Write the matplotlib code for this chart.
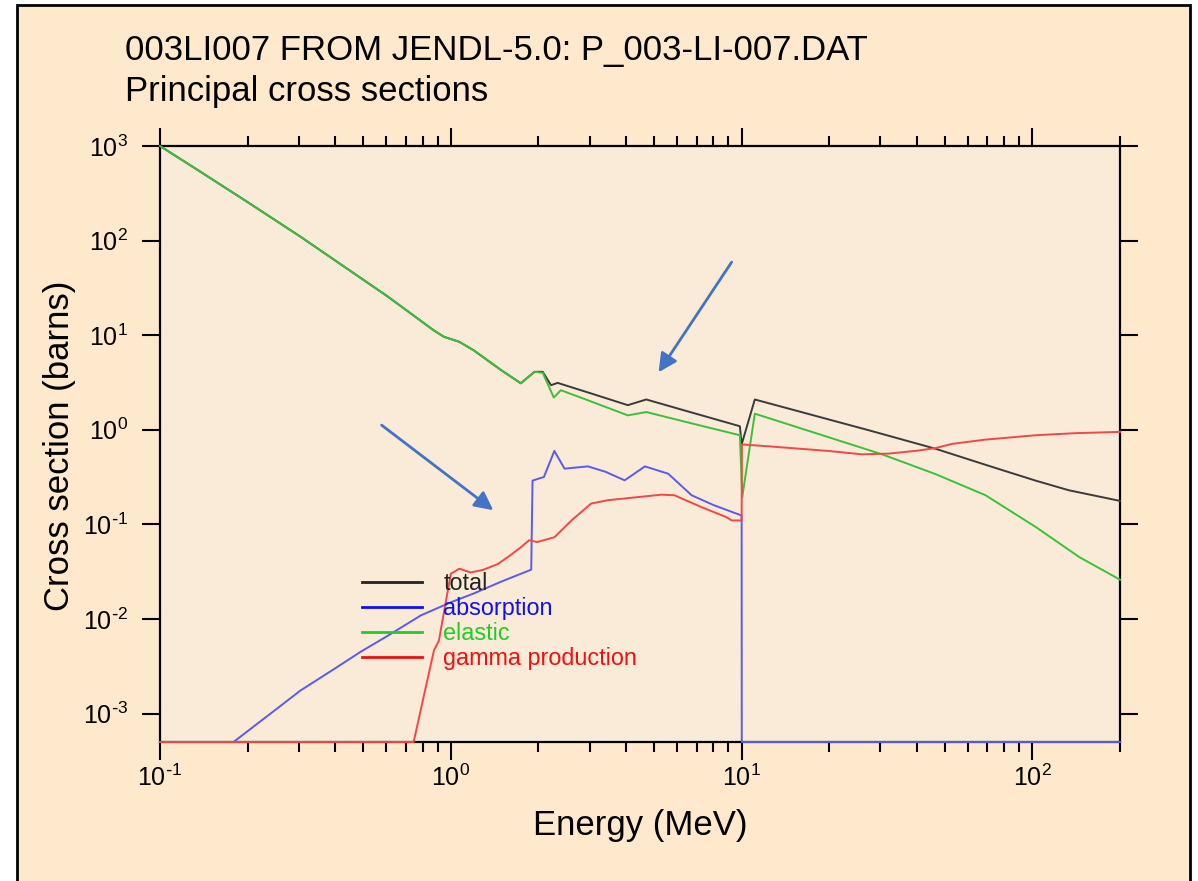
import matplotlib
matplotlib.use("Agg")
import matplotlib.pyplot as plt
import numpy as np
from matplotlib.patches import Rectangle
from matplotlib.lines import Line2D
from matplotlib.ticker import LogLocator, FixedLocator, NullLocator, NullFormatter, FuncFormatter

plt.rcParams['font.family'] = ['Liberation Sans', 'DejaVu Sans']
plt.rcParams['mathtext.default'] = 'regular'
plt.rcParams['axes.unicode_minus'] = False

# Li-7 principal cross sections (MeV, barns); 0 means below the plot floor
e_total = [0.1, 0.137, 0.199, 0.304, 0.396, 0.605, 0.875, 0.948, 1.07, 1.2, 1.49, 1.74,
           1.94, 2.07, 2.21, 2.33, 3.0, 4.06, 4.70, 6.5, 9.86, 10.0, 11.1, 27.3, 46.4,
           70.0, 102.5, 133.6, 200.0]
s_total = [1000, 540, 258, 110, 63, 25.8, 11.2, 9.6, 8.5, 6.9, 4.27, 3.1,
           4.1, 4.1, 2.96, 3.13, 2.45, 1.82, 2.09, 1.57, 1.09, 0.70, 2.09, 0.99, 0.63,
           0.42, 0.29, 0.229, 0.177]

e_elastic = [0.1, 0.137, 0.199, 0.304, 0.396, 0.605, 0.875, 0.948, 1.07, 1.2, 1.49, 1.74,
             1.94, 2.07, 2.26, 2.39, 3.0, 4.06, 4.70, 6.5, 9.86, 10.05, 11.1, 20.0, 30.4,
             46.4, 69.0, 102.5, 145.0, 200.0]
s_elastic = [1000, 540, 258, 110, 63, 25.8, 11.2, 9.6, 8.5, 6.9, 4.27, 3.1,
             4.1, 4.0, 2.19, 2.62, 2.02, 1.42, 1.54, 1.2, 0.875, 0.195, 1.48, 0.83, 0.55,
             0.34, 0.203, 0.094, 0.045, 0.026]

e_absorption = [0.1, 0.179, 0.2, 0.25, 0.304, 0.4, 0.49, 0.6, 0.789, 1.0, 1.2, 1.5, 1.89,
                1.91, 2.09, 2.27, 2.46, 2.96, 3.4, 3.96, 4.65, 5.59, 6.73, 8.0, 10.0, 10.01,
                200.0]
s_absorption = [0, 0, 0.00065, 0.0011, 0.00175, 0.0030, 0.0045, 0.0065, 0.0109, 0.015, 0.0186,
                0.025, 0.0332, 0.29, 0.317, 0.597, 0.388, 0.41, 0.36, 0.292, 0.41, 0.343, 0.203,
                0.16, 0.124, 0, 0]

e_gamma = [0.1, 0.745, 0.875, 0.91, 1.0, 1.07, 1.17, 1.29, 1.45, 1.6, 1.75, 1.86, 1.98, 2.27,
           2.6, 3.04, 3.47, 5.30, 5.87, 7.28, 8.87, 9.24, 10.0, 10.02, 12.4, 19.9, 25.9, 32.1,
           40.0, 46.4, 53.0, 69.0, 102.5, 140.0, 200.0]
s_gamma = [0, 0, 0.00465, 0.0059, 0.030, 0.034, 0.031, 0.033, 0.038, 0.047, 0.058, 0.068, 0.065,
           0.073, 0.11, 0.166, 0.18, 0.206, 0.203, 0.152, 0.119, 0.11, 0.11, 0.70, 0.668, 0.597,
           0.55, 0.56, 0.60, 0.64, 0.71, 0.787, 0.875, 0.92, 0.95]

labels = ['total', 'absorption', 'elastic', 'gamma production']
curve_colors = ['#3a3a3a', '#5a5af0', '#3cc03c', '#f04848']
key_colors = ['#222222', '#1010ee', '#22cc22', '#ee1111']

YMIN, YMAX = 5e-4, 1e3
XMIN, XMAX = 0.1, 200


def decade_label(v, pos):
    exp = int(round(np.log10(v)))
    if exp < 0:
        return r'$10^{\text{-}%d}$' % -exp
    return r'$10^{%d}$' % exp


fig = plt.figure(figsize=(11.98, 8.81), dpi=100)
fig.patch.set_facecolor('white')
fig.add_artist(Rectangle((17 / 1198, -0.05), (1190 - 17) / 1198, 1.05 - 5 / 881,
                         transform=fig.transFigure, facecolor='#fee9cc',
                         edgecolor='black', lw=2, zorder=0))

ax = fig.add_axes([160 / 1198, 139 / 881, 960 / 1198, 596 / 881])
ax.set_facecolor('#f9ebd7')

series = [(e_total, s_total), (e_absorption, s_absorption),
          (e_elastic, s_elastic), (e_gamma, s_gamma)]
for (e, s), c in zip(series, curve_colors):
    s = np.asarray(s, dtype=float)
    # zero values sit on the bottom axis line
    ax.plot(e, np.where(s > 0, s, YMIN), color=c, lw=1.4, zorder=3, clip_on=False)

ax.set_xscale('log')
ax.set_yscale('log')
ax.set_xlim(XMIN, XMAX)
ax.set_ylim(YMIN, YMAX)

ax.xaxis.set_major_locator(FixedLocator([0.1, 1, 10, 100]))
ax.xaxis.set_minor_locator(LogLocator(base=10, subs=np.arange(2, 10)))
ax.xaxis.set_minor_formatter(NullFormatter())
ax.xaxis.set_major_formatter(FuncFormatter(decade_label))
ax.yaxis.set_major_locator(FixedLocator([1e-3, 1e-2, 1e-1, 1, 10, 100, 1000]))
ax.yaxis.set_minor_locator(NullLocator())
ax.yaxis.set_major_formatter(FuncFormatter(decade_label))

for sp in ax.spines.values():
    sp.set_linewidth(1.6)
ax.tick_params(which='both', direction='out', top=True, right=True, width=1.5,
               labelsize=18, colors='black')
ax.tick_params(which='major', length=13)
ax.tick_params(which='minor', length=7)
ax.tick_params(axis='x', pad=3)
ax.tick_params(axis='y', pad=10)

fig.text(125 / 1198, 1 - 60 / 881, '003LI007 FROM JENDL-5.0: P_003-LI-007.DAT',
         fontsize=25, va='baseline', ha='left')
fig.text(125 / 1198, 1 - 101 / 881, 'Principal cross sections',
         fontsize=25, va='baseline', ha='left')
fig.text(640 / 1198, 1 - 826 / 881, 'Energy (MeV)', fontsize=25, ha='center', va='center')
fig.text(60 / 1198, 1 - 446 / 881, 'Cross section (barns)', fontsize=25,
         ha='center', va='center', rotation=90)

handles = [Line2D([], [], color=c, lw=2) for c in key_colors]
leg = ax.legend(handles, labels, loc='upper left', bbox_to_anchor=(0.21, 0.285),
                frameon=False, fontsize=16.8, handlelength=2.6, handletextpad=0.9,
                labelspacing=0.08, borderpad=0, borderaxespad=0)
for txt, c in zip(leg.get_texts(), key_colors):
    txt.set_color(c)

# pointer arrows
arrow = dict(arrowstyle='-|>', color='#4472c4', lw=2, mutation_scale=28, shrinkA=0, shrinkB=0)
ax.annotate('', xy=(5.18, 4.05), xytext=(9.24, 59.2), arrowprops=arrow)
ax.annotate('', xy=(1.40, 0.141), xytext=(0.578, 1.12), arrowprops=arrow)

fig.savefig('out.png', dpi=100, facecolor=fig.get_facecolor())
